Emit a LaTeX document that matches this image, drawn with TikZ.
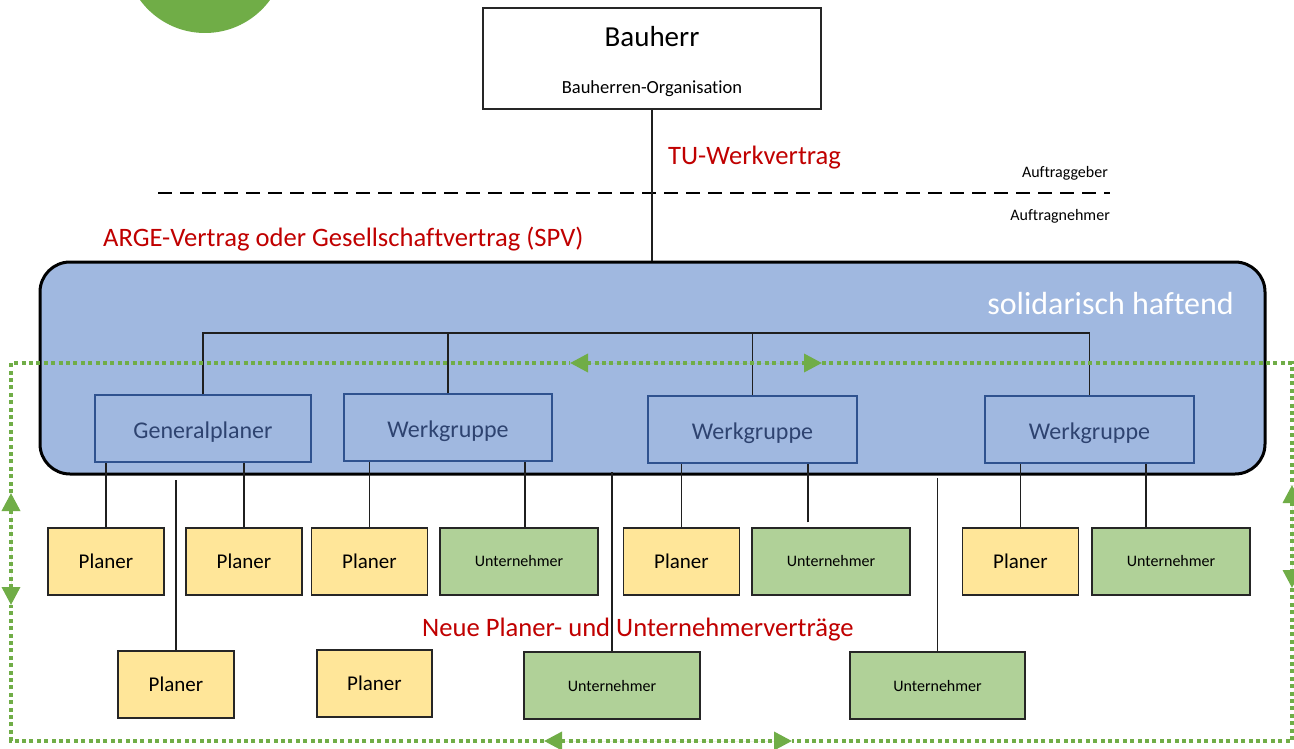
\documentclass[tikz,border=0pt]{standalone}
\usepackage{fontspec}
\setmainfont{Carlito}[Ligatures=NoCommon]
\usetikzlibrary{arrows.meta,calc}

\definecolor{ogreen}{HTML}{70AD47}
\definecolor{pblue}{HTML}{A0B8E0}
\definecolor{dblue}{HTML}{2F528F}
\definecolor{tblue}{HTML}{2E4370}
\definecolor{pyellow}{HTML}{FFE699}
\definecolor{ugreen}{HTML}{B0D198}
\definecolor{dred}{HTML}{C00000}
\definecolor{lgray}{HTML}{1F1F1F}

\newcommand{\fs}[1]{\fontsize{#1}{#1}\selectfont}

\begin{document}
\begin{tikzpicture}[x=1pt,y=-1pt,
  conn/.style={draw=lgray, line width=1.2pt},
  plainbox/.style={draw=black!85, line width=1.3pt, inner sep=0pt},
  groupbox/.style={draw=dblue, line width=1.3pt, inner sep=0pt, text=tblue,
    minimum height=67, font=\fs{24}, text height=20pt, text depth=0pt},
  planerbox/.style={plainbox, fill=pyellow, minimum width=116, minimum height=67, font=\fs{21}},
  unterbox/.style={plainbox, fill=ugreen, minimum height=67, font=\fs{16}},
  redlabel/.style={text=dred, font=\fs{26.6}, inner sep=0pt, anchor=base west},
  smalllabel/.style={font=\fs{16}, inner sep=0pt, anchor=base east},
  gloop/.style={draw=ogreen, line width=3.5pt, dash pattern=on 4pt off 3.4pt, line cap=butt},
  gtip/.style={{Triangle[length=18pt,width=18pt]}-{Triangle[length=18pt,width=18pt]}}
]
\useasboundingbox (0,0) rectangle (1294,749);
\clip (0,0) rectangle (1294,749);
\fill[white] (0,0) rectangle (1294,749);

% decorative disc at the top edge
\fill[ogreen] (205,-47.5) circle (80.5);

% client
\node[plainbox, fill=white, minimum width=338, minimum height=101] (bh) at (652,58.5) {};
\node[font=\fs{29}, inner sep=0pt, anchor=base] (bhname) at (652,46.5) {Bauherr};
\node[font=\fs{18.5}, inner sep=0pt, anchor=base] (bhorg) at (652,94) {Bauherren-Organisation};

% client / contractor boundary
\coordinate (dl) at (158,193);
\coordinate (dr) at (1110,193);
\draw[line width=2pt, dash pattern=on 14pt off 8pt] (dl) -- (dr);
\node[smalllabel] (ag) at (1108,178) {Auftraggeber};
\node[smalllabel] (an) at (1110,221) {Auftragnehmer};

\node[redlabel] (tu) at (668,164.5) {TU-Werkvertrag};
\node[redlabel] (arge) at (103,246) {ARGE-Vertrag oder Gesellschaftvertrag (SPV)};

% joint venture
\node[draw=black, line width=3pt, fill=pblue, rounded corners=30pt,
      minimum width=1225, minimum height=212, inner sep=0pt] (big) at (652.5,368) {};
\node[text=white, font=\fs{32}, inner sep=0pt, anchor=base east] (sol) at (1234,314) {solidarisch haftend};

\draw[conn] (bh.south) -- (bh.south |- big.north);

% partners
\node[groupbox, minimum width=216] (gp)  at (203,428.5)  {Generalplaner};
\node[groupbox, minimum width=208] (wg1) at (448,427.5)  {Werkgruppe};
\node[groupbox, minimum width=209] (wg2) at (752.5,429.5) {Werkgruppe};
\node[groupbox, minimum width=209] (wg3) at (1089.5,429.5) {Werkgruppe};

\coordinate (bus) at (0,333);
\draw[conn] (gp.north) -- (gp.north |- bus) -- (wg3.north |- bus) -- (wg3.north);
\draw[conn] (wg1.north) -- (wg1.north |- bus);
\draw[conn] (wg2.north) -- (wg2.north |- bus);

% green contract loop
\coordinate (tl) at (11,363);
\coordinate (tr) at (1292,363);
\coordinate (br) at (1292,741);
\coordinate (bl) at (11,741);
\coordinate (ta1) at (570,363);
\coordinate (ta2) at (822,363);
\coordinate (ra1) at (1292,485);
\coordinate (ra2) at (1292,588);
\coordinate (ba1) at (544,741);
\coordinate (ba2) at (792,741);
\coordinate (la1) at (11,493);
\coordinate (la2) at (11,605);
\draw[gloop] (ta2) -- (tr) -- (ra1);
\draw[gloop, gtip, fill=ogreen] (ra1) -- (ra2);
\draw[gloop] (ra2) -- (br) -- (ba2);
\draw[gloop, gtip, fill=ogreen] (ba1) -- (ba2);
\draw[gloop] (ba1) -- (bl) -- (la2);
\draw[gloop, gtip, fill=ogreen] (la1) -- (la2);
\draw[gloop] (la1) -- (tl) -- (ta1);
\draw[gloop, gtip, fill=ogreen] (ta1) -- (ta2);

% first row of sub-contracts
\node[planerbox] (p1) at (106,561.5) {Planer};
\node[planerbox] (p2) at (244,561.5) {Planer};
\node[planerbox] (p3) at (369.5,561.5) {Planer};
\node[unterbox, minimum width=158] (u1) at (519,561.5) {Unternehmer};
\node[planerbox] (p4) at (681.5,561.5) {Planer};
\node[unterbox, minimum width=158] (u2) at (831,561.5) {Unternehmer};
\node[planerbox] (p5) at (1020.5,561.5) {Planer};
\node[unterbox, minimum width=158] (u3) at (1171,561.5) {Unternehmer};

% second row of sub-contracts
\node[planerbox] (p6) at (176,684.5) {Planer};
\node[planerbox, minimum width=115] (p7) at (374.5,683.5) {Planer};
\node[unterbox, minimum width=176] (u4) at (612,685.5) {Unternehmer};
\node[unterbox, minimum width=175] (u5) at (937.5,685.5) {Unternehmer};

\draw[conn] (p1.north) -- (p1.north |- gp.south);
\draw[conn] (p2.north) -- (p2.north |- gp.south);
\draw[conn] (p3.north) -- (p3.north |- wg1.south);
\draw[conn] ([xshift=6pt]u1.north) -- ([xshift=6pt]u1.north |- wg1.south);
\draw[conn] (p4.north) -- (p4.north |- wg2.south);
\draw[conn] ([xshift=-23pt,yshift=5pt]u2.north) -- ([xshift=-23pt]u2.north |- wg2.south);
\draw[conn] (p5.north) -- (p5.north |- wg3.south);
\draw[conn] ([xshift=-25pt]u3.north) -- ([xshift=-25pt]u3.north |- wg3.south);

\draw[conn] (p6.north) -- ($(p6.north |- big.south)+(0,4)$);
\draw[conn] (u4.north) -- ($(u4.north |- big.south)+(0,-4)$);
\draw[conn] (u5.north) -- ($(u5.north |- big.south)+(0,2)$);

\node[redlabel] (neu) at (422,636) {Neue Planer- und Unternehmerverträge};
\end{tikzpicture}
\end{document}
